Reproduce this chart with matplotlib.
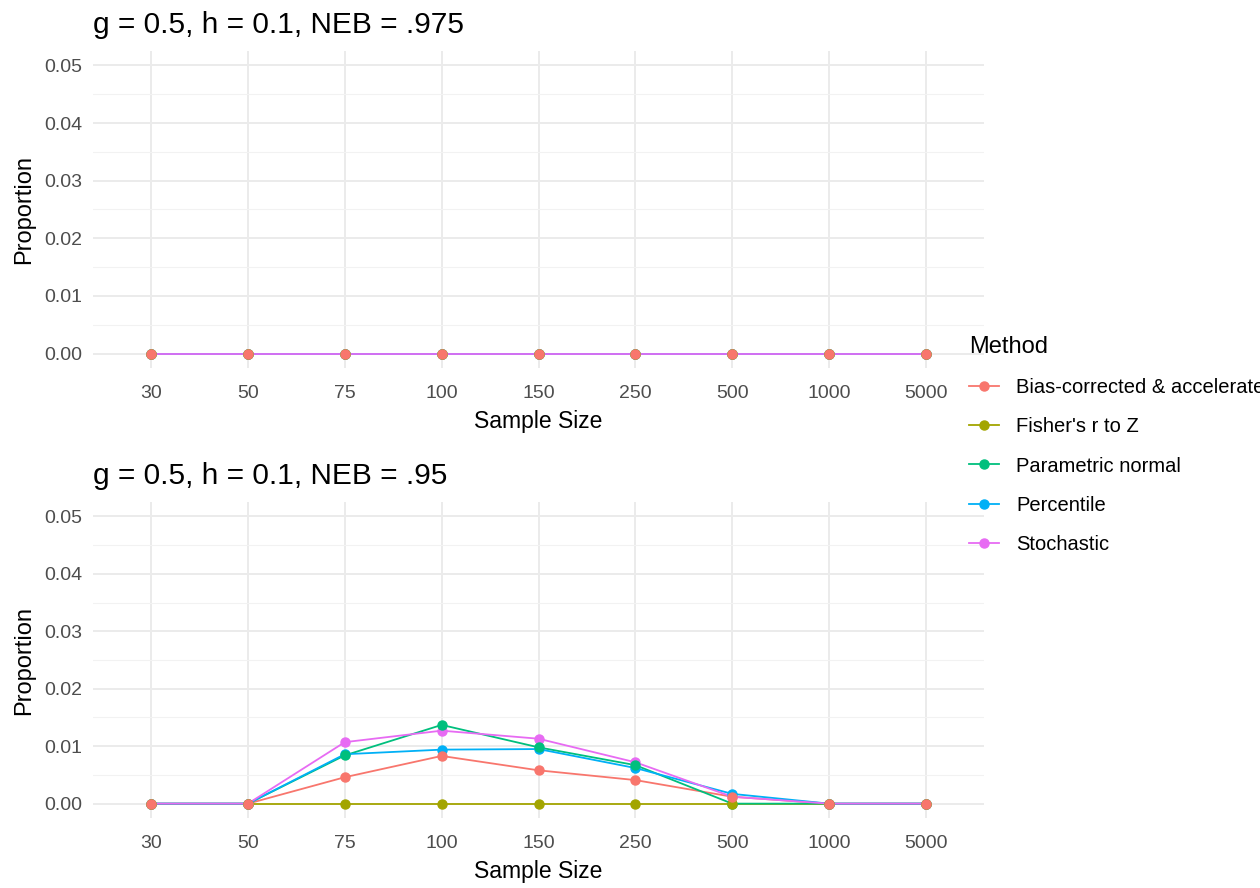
import numpy as np
import matplotlib
matplotlib.use("Agg")
from matplotlib import pyplot as plt
from matplotlib.ticker import MultipleLocator

plt.rcParams['font.family'] = ['Liberation Sans', 'DejaVu Sans']

sizes = ["30", "50", "75", "100", "150", "250", "500", "1000", "5000"]
methods = ["Bias-corrected & accelerated", "Fisher's r to Z", "Parametric normal",
           "Percentile", "Stochastic"]
colors = ["#F8766D", "#A3A500", "#00BF7D", "#00B0F6", "#E76BF3"]

# NEB = .975: every method stays at zero
prop_975 = {
    "Bias-corrected & accelerated": [0, 0, 0, 0, 0, 0, 0, 0, 0],
    "Fisher's r to Z":              [0, 0, 0, 0, 0, 0, 0, 0, 0],
    "Parametric normal":            [0, 0, 0, 0, 0, 0, 0, 0, 0],
    "Percentile":                   [0, 0, 0, 0, 0, 0, 0, 0, 0],
    "Stochastic":                   [0, 0, 0, 0, 0, 0, 0, 0, 0],
}
# NEB = .95
prop_95 = {
    "Bias-corrected & accelerated": [0, 0, 0.0046, 0.0083, 0.0058, 0.0041, 0.0012, 0, 0],
    "Fisher's r to Z":              [0, 0, 0, 0, 0, 0, 0, 0, 0],
    "Parametric normal":            [0, 0, 0.0084, 0.0137, 0.0098, 0.0067, 0, 0, 0],
    "Percentile":                   [0, 0, 0.0086, 0.0094, 0.0095, 0.0062, 0.0017, 0, 0],
    "Stochastic":                   [0, 0, 0.0107, 0.0127, 0.0113, 0.0072, 0.0012, 0, 0],
}

W, H = 1260, 888
fig = plt.figure(figsize=(W / 100, H / 100), dpi=100)


def panel(top, bottom, title, data):
    x0, x1 = 93, 984
    ax = fig.add_axes([x0 / W, 1 - bottom / H, (x1 - x0) / W, (bottom - top) / H])
    x = np.arange(1, len(sizes) + 1)
    for m, c in zip(methods, colors):
        ax.plot(x, data[m], color=c, lw=1.3, zorder=3)
    for m, c in reversed(list(zip(methods, colors))):
        ax.plot(x, data[m], color=c, lw=0, marker="o", markersize=6.5, zorder=4)
    ax.set_xlim(0.4, len(sizes) + 0.6)
    ax.set_ylim(-0.0025, 0.0525)
    ax.set_xticks(x)
    ax.set_xticklabels(sizes)
    ax.yaxis.set_major_locator(MultipleLocator(0.01))
    ax.yaxis.set_minor_locator(MultipleLocator(0.005))
    ax.yaxis.set_major_formatter(lambda v, p: f"{v:.2f}")
    ax.grid(which="major", color="#EBEBEB", lw=1.4)
    ax.grid(which="minor", axis="y", color="#F2F2F2", lw=0.8)
    ax.set_axisbelow(True)
    for s in ax.spines.values():
        s.set_visible(False)
    ax.tick_params(which="both", length=0, labelsize=14, labelcolor="#4D4D4D")
    ax.tick_params(axis="x", pad=12)
    ax.tick_params(axis="y", pad=8)
    ax.set_xlabel("Sample Size", fontsize=16.5, labelpad=6)
    ax.set_ylabel("Proportion", fontsize=17, labelpad=6)
    ax.set_title(title, loc="left", fontsize=21.5, pad=13)
    ax.title.set_position((-2 / (x1 - x0), 1))
    return ax


panel(51, 368, "g = 0.5, h = 0.1, NEB = .975", prop_975)
panel(502, 818, "g = 0.5, h = 0.1, NEB = .95", prop_95)

handles = [plt.Line2D([], [], color=c, lw=1.3, marker="o", markersize=6.5) for c in colors]
leg = fig.legend(handles, methods, title="Method", loc="upper left",
                 bbox_to_anchor=(951 / W, 1 - 318 / H), frameon=False,
                 fontsize=14.5, title_fontsize=17, handlelength=1.5,
                 handletextpad=0.84, labelspacing=1.0, alignment="left")

fig.savefig("out.png", dpi=100)
